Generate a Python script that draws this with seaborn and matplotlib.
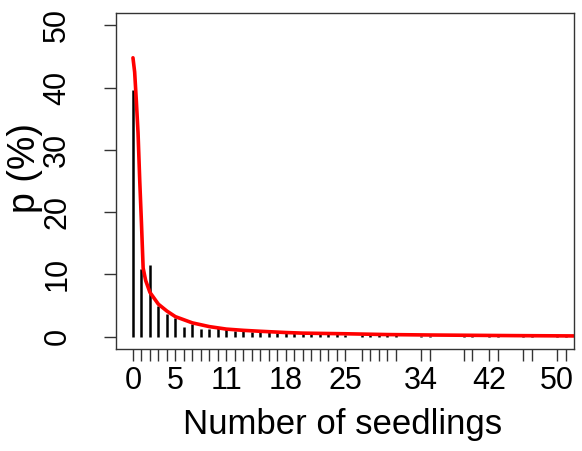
import matplotlib
matplotlib.use("Agg")
import matplotlib.pyplot as plt
import numpy as np
import pandas as pd
import seaborn as sns

# observed seedling counts and their frequencies (%)
counts = [0, 1, 2, 3, 4, 5, 6, 7, 8, 9, 10, 11, 12, 13, 14, 15, 16, 17, 18, 19,
          20, 21, 22, 23, 24, 25, 27, 28, 29, 30, 31, 34, 35, 39, 40, 42, 43, 46, 47, 50, 51]
freqs = [39.6, 10.9, 11.5, 4.9, 3.6, 3.0, 1.5, 2.0, 1.2, 1.2, 1.3, 1.2, 0.9, 0.9, 0.8, 0.7,
         0.7, 0.6, 0.6, 0.5, 0.8, 0.5, 0.4, 0.4, 0.4, 0.3, 0.2, 0.2, 0.2, 0.2, 0.2, 0.15,
         0.15, 0.15, 0.15, 0.15, 0.15, 0.15, 0.15, 0.15, 0.15]

# fitted curve
fit_x = [0, 0.2, 0.4, 0.6, 0.8, 1.0, 1.2, 1.5, 2, 3, 4, 5, 6, 7, 8, 9, 10, 11, 13, 15,
         18, 20, 25, 30, 35, 40, 45, 52]
fit_y = [44.8, 42.5, 37.8, 32.7, 25.0, 18.3, 11.0, 9.0, 7.1, 5.2, 4.1, 3.2, 2.7, 2.2, 1.9,
         1.6, 1.4, 1.2, 1.0, 0.85, 0.65, 0.55, 0.45, 0.32, 0.25, 0.2, 0.15, 0.1]

label_at = [0, 5, 11, 18, 25, 34, 42, 50]
y_ticks = [0, 10, 20, 30, 40, 50]

df_obs = pd.DataFrame({"count": counts, "p": freqs})
df_fit = pd.DataFrame({"x": fit_x, "p": fit_y})

sns.set_style("white")
plt.rcParams['font.family'] = ['Liberation Sans', 'DejaVu Sans']
plt.rcParams['text.color'] = 'black'
plt.rcParams['axes.labelcolor'] = 'black'

fig = plt.figure(figsize=(5.82, 4.51), dpi=100)
ax = fig.add_axes([116 / 582, 1 - 349 / 451, 458 / 582, 336 / 451])

# frequency spikes
ax.vlines(df_obs["count"], 0, df_obs["p"], color="black", linewidth=1.8)

# fitted line
sns.lineplot(data=df_fit, x="x", y="p", color="red", linewidth=2.6, ax=ax)

ax.set_xlim(-2, 52)
ax.set_ylim(-2, 52)

ax.set_xticks(counts)
ax.set_xticklabels([str(c) if c in label_at else "" for c in counts])
ax.set_yticks(y_ticks)
ax.set_yticklabels([str(v) for v in y_ticks], rotation=90, va="center")

ax.tick_params(axis="both", direction="out", length=8.5, width=1.0, color="#333333",
               labelsize=22, labelcolor="black", bottom=True, left=True)
ax.tick_params(axis="x", pad=4)
ax.tick_params(axis="y", pad=23)

for s in ax.spines.values():
    s.set_color("#333333")
    s.set_linewidth(1.0)

ax.set_xlabel("Number of seedlings", fontsize=25)
ax.set_ylabel("p (%)", fontsize=27)
ax.xaxis.set_label_coords(0.495, -0.176)
ax.yaxis.set_label_coords(-0.16, 0.54)

fig.savefig("out.png", dpi=100)
plt.close(fig)
